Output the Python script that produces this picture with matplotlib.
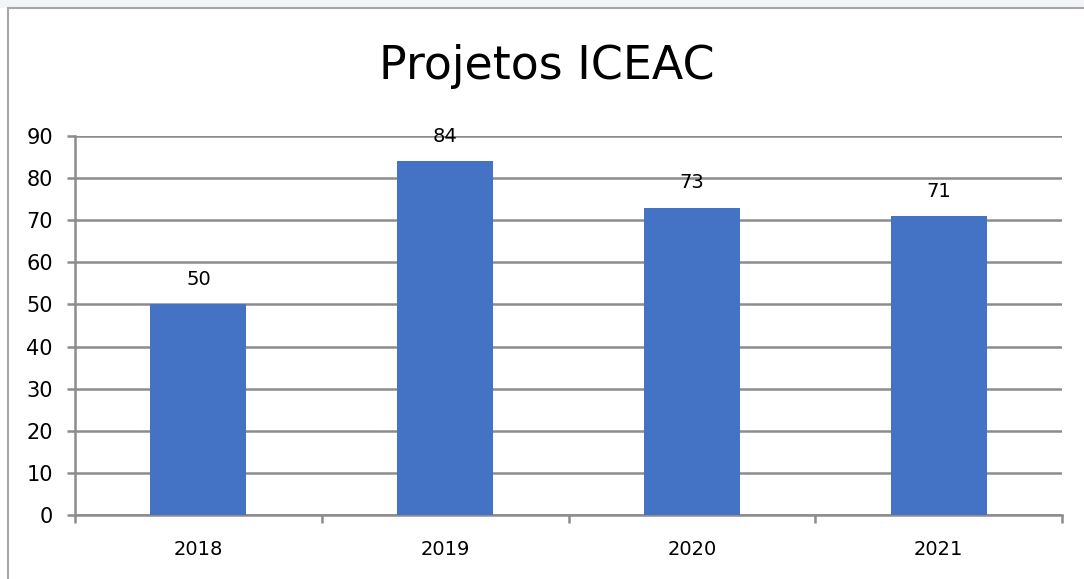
import matplotlib
matplotlib.use("Agg")
import matplotlib.pyplot as plt
from matplotlib.lines import Line2D
from matplotlib.patches import Rectangle

years = ["2018", "2019", "2020", "2021"]
projects = [50, 84, 73, 71]
y_ticks = [0, 10, 20, 30, 40, 50, 60, 70, 80, 90]

plt.rcParams["font.family"] = ["DejaVu Sans"]

W, H = 1084, 579
fig = plt.figure(figsize=(W / 100, H / 100), dpi=100)
fig.patch.set_facecolor("white")

# light band above chart frame
fig.add_artist(Rectangle((0, 1 - 8 / H), 1, 8 / H, transform=fig.transFigure,
                         facecolor="#f3f4f5", edgecolor="none", zorder=0))
# chart frame (left + top edges)
fig.add_artist(Line2D([7.5 / W, 7.5 / W], [0, 1 - 8 / H], transform=fig.transFigure,
                      color="#a6a6a6", lw=1.5))
fig.add_artist(Line2D([7.5 / W, 1], [1 - 8 / H, 1 - 8 / H], transform=fig.transFigure,
                      color="#a6a6a6", lw=1.5))

ax = fig.add_axes([75 / W, 1 - 515 / H, (1062 - 75) / W, (515 - 136) / H])
x = list(range(len(years)))
ax.bar(x, projects, width=0.39, color="#4472C4", zorder=3)

ax.set_xlim(-0.5, len(years) - 0.5)
ax.set_ylim(0, 90)
ax.set_yticks(y_ticks)
ax.set_yticklabels([str(v) for v in y_ticks])
ax.yaxis.grid(True, color="#8c8c8c", lw=1.8, zorder=0)
ax.set_axisbelow(True)

ax.set_xticks([i - 0.5 for i in range(len(years) + 1)])
ax.set_xticklabels([])
ax.set_xticks(x, minor=True)
ax.set_xticklabels(years, minor=True)
ax.tick_params(axis="x", which="major", direction="out", length=6, width=1.8, color="#8c8c8c")
ax.tick_params(axis="x", which="minor", length=0, pad=18, labelsize=14)
ax.tick_params(axis="y", direction="out", length=6, width=1.8, color="#8c8c8c",
               labelsize=15, pad=10)

for s in ["top", "right"]:
    ax.spines[s].set_visible(False)
for s in ["left", "bottom"]:
    ax.spines[s].set_color("#8c8c8c")
    ax.spines[s].set_linewidth(1.8)

for xi, v in zip(x, projects):
    ax.annotate(str(v), (xi, v), xytext=(0, 11), textcoords="offset points",
                ha="center", va="bottom", fontsize=14, color="black")

fig.text(547 / W, 1 - 79 / H, "Projetos ICEAC", ha="center", va="baseline",
         fontsize=33, family="DejaVu Sans", color="black")

fig.savefig("out.png", dpi=100)
